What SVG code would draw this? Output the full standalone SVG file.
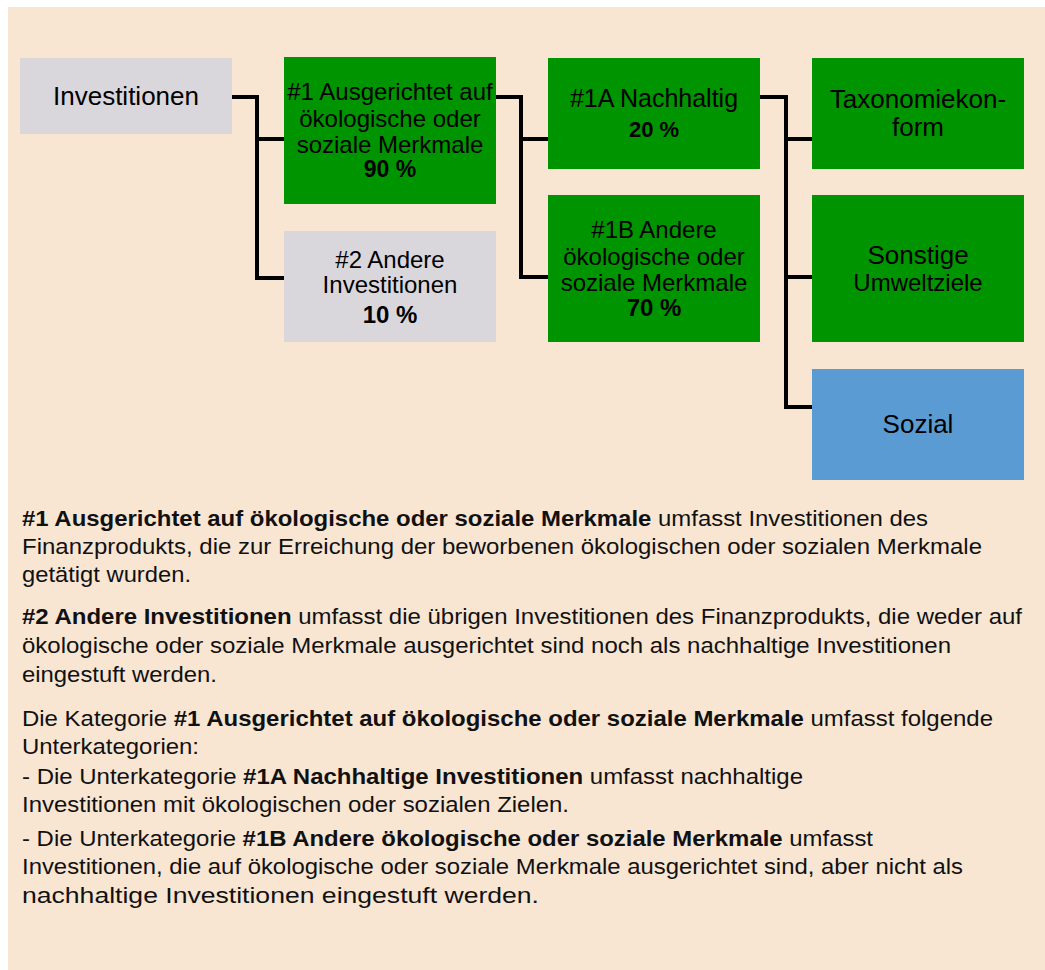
<svg xmlns="http://www.w3.org/2000/svg" width="1045" height="970" viewBox="0 0 1045 970">
<style>
.bg{fill:#F8E6D3}
.green{fill:#009400}
.gray{fill:#DAD7DC}
.blue{fill:#5B9BD3}
.lbl{font-family:"Liberation Sans",Arial,sans-serif;fill:#000;text-anchor:middle}
.b{font-weight:bold}
.conn{fill:none;stroke:#000;stroke-width:4;stroke-linejoin:miter}
.body{font-family:"Liberation Sans",Arial,sans-serif;font-size:22px;fill:#111}
</style>
<rect class="bg" x="8" y="7" width="1037" height="963"/>
<g id="connectors">
<path class="conn" d="M232,97 H257 V278 H284 M257,139 H284"/>
<path class="conn" d="M496,97 H521 V277 H548 M521,139 H548"/>
<path class="conn" d="M760,97 H786 V407 H812 M786,139 H812 M786,277 H812"/>
</g>
<g id="investitionen">
<rect class="gray" x="20" y="58" width="212" height="76"/>
<text class="lbl" x="126" y="105" font-size="26">Investitionen</text>
</g>
<g id="n1">
<rect class="green" x="284" y="57" width="212" height="147"/>
<text class="lbl" x="390" font-size="24"><tspan x="390" y="100">#1 Ausgerichtet auf</tspan><tspan x="390" y="127">ökologische oder</tspan><tspan x="390" y="153">soziale Merkmale</tspan><tspan x="390" y="177" class="b" font-size="23">90 %</tspan></text>
</g>
<g id="n2">
<rect class="gray" x="284" y="231" width="212" height="111"/>
<text class="lbl" x="390" font-size="24"><tspan x="390" y="268">#2 Andere</tspan><tspan x="390" y="293">Investitionen</tspan><tspan x="390" y="323" class="b">10 %</tspan></text>
</g>
<g id="n1a">
<rect class="green" x="548" y="58" width="212" height="111"/>
<text class="lbl" x="654" font-size="25"><tspan x="654" y="107">#1A Nachhaltig</tspan><tspan x="654" y="137" class="b" font-size="22">20 %</tspan></text>
</g>
<g id="n1b">
<rect class="green" x="548" y="195" width="212" height="147"/>
<text class="lbl" x="654" font-size="24"><tspan x="654" y="238">#1B Andere</tspan><tspan x="654" y="265">ökologische oder</tspan><tspan x="654" y="291">soziale Merkmale</tspan><tspan x="654" y="316" class="b">70 %</tspan></text>
</g>
<g id="taxonomie">
<rect class="green" x="812" y="58" width="212" height="111"/>
<text class="lbl" x="918" font-size="26"><tspan x="918" y="108">Taxonomiekon-</tspan><tspan x="918" y="136">form</tspan></text>
</g>
<g id="sonstige">
<rect class="green" x="812" y="195" width="212" height="147"/>
<text class="lbl" x="918"><tspan x="918" y="264" font-size="26">Sonstige</tspan><tspan x="918" y="291" font-size="24">Umweltziele</tspan></text>
</g>
<g id="sozial">
<rect class="blue" x="812" y="369" width="212" height="111"/>
<text class="lbl" x="918" y="433" font-size="26">Sozial</text>
</g>
<g id="legend">
<text class="body" x="22" y="526" textLength="906" lengthAdjust="spacingAndGlyphs"><tspan class="b">#1 Ausgerichtet auf ökologische oder soziale Merkmale</tspan> umfasst Investitionen des</text>
<text class="body" x="22" y="554" textLength="960" lengthAdjust="spacingAndGlyphs">Finanzprodukts, die zur Erreichung der beworbenen ökologischen oder sozialen Merkmale</text>
<text class="body" x="22" y="582" textLength="169" lengthAdjust="spacingAndGlyphs">getätigt wurden.</text>
<text class="body" x="22" y="624" textLength="1000" lengthAdjust="spacingAndGlyphs"><tspan class="b">#2 Andere Investitionen</tspan> umfasst die übrigen Investitionen des Finanzprodukts, die weder auf</text>
<text class="body" x="22" y="653" textLength="929" lengthAdjust="spacingAndGlyphs">ökologische oder soziale Merkmale ausgerichtet sind noch als nachhaltige Investitionen</text>
<text class="body" x="22" y="682" textLength="195" lengthAdjust="spacingAndGlyphs">eingestuft werden.</text>
<text class="body" x="22" y="726" textLength="971" lengthAdjust="spacingAndGlyphs">Die Kategorie <tspan class="b">#1 Ausgerichtet auf ökologische oder soziale Merkmale</tspan> umfasst folgende</text>
<text class="body" x="22" y="754" textLength="177" lengthAdjust="spacingAndGlyphs">Unterkategorien:</text>
<text class="body" x="22" y="784" textLength="781" lengthAdjust="spacingAndGlyphs">- Die Unterkategorie <tspan class="b">#1A Nachhaltige Investitionen</tspan> umfasst nachhaltige</text>
<text class="body" x="22" y="812" textLength="547" lengthAdjust="spacingAndGlyphs">Investitionen mit ökologischen oder sozialen Zielen.</text>
<text class="body" x="22" y="846" textLength="851" lengthAdjust="spacingAndGlyphs">- Die Unterkategorie <tspan class="b">#1B Andere ökologische oder soziale Merkmale</tspan> umfasst</text>
<text class="body" x="22" y="874" textLength="941" lengthAdjust="spacingAndGlyphs">Investitionen, die auf ökologische oder soziale Merkmale ausgerichtet sind, aber nicht als</text>
<text class="body" x="22" y="903" font-size="24" textLength="517" lengthAdjust="spacingAndGlyphs">nachhaltige Investitionen eingestuft werden.</text>
</g>
</svg>
